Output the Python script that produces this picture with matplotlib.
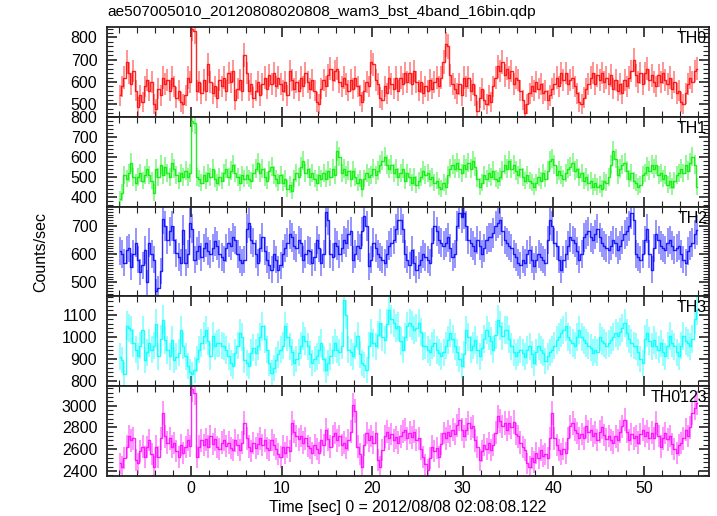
import numpy as np
import matplotlib
matplotlib.use("Agg")
import matplotlib.pyplot as plt
from matplotlib.ticker import MultipleLocator

plt.rcParams['font.family'] = ['Liberation Sans', 'DejaVu Sans']

title = "ae507005010_20120808020808_wam3_bst_4band_16bin.qdp"
xlabel = "Time [sec] 0 = 2012/08/08 02:08:08.122"
ylabel = "Counts/sec"
t_start = -8.0
bin_size = 0.25

th0 = [540, 580, 620, 690, 640, 590, 650, 560, 490, 540, 510, 580, 610, 560, 600, 500,
       480, 570, 540, 620, 590, 610, 560, 620, 580, 530, 560, 510, 500, 540, 620, 600,
       840, 830, 560, 600, 550, 610, 560, 680, 600, 550, 580, 530, 610, 580, 620, 560,
       640, 600, 650, 520, 570, 610, 560, 720, 640, 560, 590, 530, 560, 600, 540, 590,
       620, 570, 630, 590, 640, 580, 620, 590, 560, 600, 540, 650, 610, 570, 600, 560,
       620, 580, 640, 600, 570, 610, 560, 510, 500, 570, 610, 580, 630, 660, 610, 650,
       660, 600, 580, 620, 590, 560, 610, 570, 620, 580, 540, 510, 560, 600, 580, 690,
       680, 610, 590, 530, 520, 580, 550, 620, 590, 570, 620, 560, 620, 590, 640, 600,
       640, 590, 650, 600, 560, 600, 550, 580, 560, 610, 570, 600, 620, 580, 620, 690,
       770, 760, 630, 590, 570, 550, 590, 540, 620, 580, 620, 560, 590, 540, 470, 530,
       570, 520, 500, 540, 510, 580, 620, 670, 650, 690, 630, 660, 620, 650, 590, 620,
       610, 560, 520, 460, 500, 550, 580, 560, 600, 570, 590, 550, 560, 520, 540, 570,
       590, 620, 580, 640, 610, 640, 590, 610, 620, 580, 550, 510, 500, 530, 570, 590,
       620, 640, 590, 630, 610, 640, 600, 620, 590, 630, 570, 610, 560, 590, 550, 610,
       580, 620, 650, 700, 630, 600, 640, 590, 640, 660, 610, 630, 600, 580, 630, 600,
       640, 610, 590, 620, 570, 600, 550, 560, 510, 500, 550, 590, 620, 600, 650, 660]

th1 = [390, 420, 510, 490, 520, 570, 500, 470, 500, 520, 480, 510, 540, 510, 480, 420,
       540, 500, 560, 510, 550, 520, 500, 570, 540, 510, 480, 520, 500, 530, 500, 520,
       780, 770, 500, 490, 470, 510, 480, 520, 500, 540, 490, 470, 500, 480, 520, 540,
       500, 530, 560, 520, 500, 470, 510, 490, 510, 490, 480, 520, 540, 570, 520, 540,
       500, 480, 530, 550, 510, 490, 470, 510, 470, 490, 440, 460, 430, 490, 520, 500,
       550, 580, 520, 540, 500, 520, 490, 470, 510, 490, 520, 490, 530, 500, 540, 510,
       630, 600, 520, 540, 510, 530, 490, 530, 500, 470, 490, 440, 490, 520, 500, 510,
       540, 510, 530, 560, 580, 600, 560, 540, 560, 520, 540, 500, 520, 540, 480, 520,
       500, 470, 500, 460, 480, 500, 530, 510, 520, 490, 500, 470, 480, 450, 440, 470,
       450, 510, 540, 560, 540, 570, 540, 520, 560, 540, 570, 540, 580, 550, 490, 450,
       470, 510, 490, 520, 500, 530, 490, 480, 500, 530, 560, 540, 580, 540, 560, 530,
       510, 540, 500, 480, 510, 480, 470, 450, 470, 500, 480, 520, 490, 530, 580, 590,
       560, 510, 530, 510, 490, 520, 540, 550, 570, 530, 540, 500, 520, 480, 500, 470,
       480, 450, 470, 450, 460, 440, 480, 470, 500, 560, 630, 590, 510, 540, 560, 570,
       530, 490, 520, 480, 470, 450, 460, 510, 520, 550, 530, 560, 540, 560, 510, 520,
       490, 510, 460, 480, 450, 480, 510, 520, 540, 520, 560, 530, 570, 600, 560, 450]

th2 = [610, 600, 570, 615, 620, 555, 600, 640, 580, 535, 560, 615, 500, 640, 600, 580,
       470, 480, 540, 725, 700, 650, 680, 700, 650, 605, 590, 570, 685, 570, 600, 710,
       690, 580, 610, 630, 590, 620, 640, 610, 600, 620, 645, 630, 600, 590, 580, 620,
       640, 630, 660, 650, 600, 580, 570, 580, 690, 710, 650, 640, 600, 570, 620, 660,
       610, 580, 560, 545, 600, 580, 545, 560, 600, 620, 640, 670, 660, 630, 620, 650,
       640, 580, 600, 615, 610, 570, 590, 650, 620, 570, 600, 750, 720, 600, 590, 640,
       630, 600, 620, 650, 640, 670, 680, 580, 600, 630, 620, 680, 735, 700, 556, 580,
       640, 620, 600, 590, 580, 570, 600, 630, 640, 650, 690, 720, 720, 690, 600, 580,
       560, 615, 570, 545, 560, 580, 600, 590, 580, 570, 640, 700, 680, 650, 640, 630,
       640, 660, 620, 590, 600, 700, 745, 730, 745, 700, 650, 640, 630, 610, 650, 630,
       600, 620, 650, 660, 660, 675, 700, 710, 720, 680, 650, 640, 630, 620, 600, 590,
       570, 560, 580, 570, 600, 615, 580, 556, 580, 600, 590, 580, 570, 650, 720, 700,
       640, 630, 580, 545, 580, 600, 630, 660, 650, 640, 610, 580, 600, 660, 670, 680,
       660, 650, 670, 690, 660, 640, 630, 620, 615, 630, 650, 640, 615, 630, 650, 670,
       680, 700, 745, 720, 600, 590, 580, 600, 650, 690, 600, 545, 620, 670, 650, 630,
       620, 615, 640, 650, 630, 615, 620, 630, 600, 580, 570, 610, 630, 640, 670, 685]

th3 = [910, 896, 830, 1050, 1040, 1032, 972, 942, 911, 960, 1032, 896, 930, 972, 942, 960,
       1060, 911, 990, 1077, 987, 940, 911, 987, 896, 910, 927, 1032, 960, 911, 866, 840,
       830, 851, 900, 942, 972, 1002, 1032, 980, 911, 1002, 957, 970, 972, 960, 957, 940,
       911, 880, 866, 927, 960, 1017, 1000, 896, 880, 866, 927, 950, 927, 957, 1000, 1047,
       990, 942, 880, 836, 860, 896, 920, 942, 960, 1047, 1000, 957, 930, 881, 900, 927,
       960, 1002, 980, 957, 920, 881, 900, 911, 940, 972, 900, 851, 880, 911, 940, 972,
       942, 930, 960, 1165, 1100, 942, 930, 911, 960, 1002, 920, 881, 870, 851, 960, 1017,
       972, 957, 1010, 1062, 1000, 987, 1060, 1120, 1080, 1062, 1040, 1047, 980, 942, 1000, 1047,
       1062, 1050, 1032, 1040, 1062, 1020, 957, 960, 942, 930, 960, 972, 940, 927, 911, 930,
       960, 987, 1017, 990, 957, 930, 900, 866, 920, 1032, 1000, 942, 960, 987, 940, 911,
       950, 990, 1032, 1002, 980, 942, 1010, 1077, 1050, 1002, 1030, 1032, 990, 957, 930, 911,
       930, 942, 927, 910, 940, 957, 920, 881, 930, 957, 940, 927, 890, 911, 930, 942,
       960, 987, 1000, 1017, 1030, 1047, 1000, 987, 972, 960, 1000, 1032, 1000, 987, 972, 960,
       950, 927, 942, 930, 1000, 980, 972, 960, 970, 987, 1000, 1017, 1002, 1020, 1040, 1062,
       1017, 990, 972, 960, 957, 930, 900, 881, 990, 1017, 980, 957, 987, 960, 942, 970,
       930, 911, 960, 1002, 970, 957, 930, 911, 960, 1002, 980, 972, 957, 990, 1080, 1120]

th0123 = [2470, 2440, 2520, 2624, 2717, 2680, 2700, 2501, 2470, 2580, 2624, 2532, 2620, 2686, 2560, 2440,
          2624, 2532, 2700, 2932, 2717, 2660, 2700, 2624, 2655, 2580, 2532, 2640, 2563, 2620, 2686, 2630,
          3148, 3117, 2532, 2624, 2680, 2640, 2690, 2624, 2717, 2650, 2690, 2620, 2600, 2660, 2686, 2630,
          2660, 2610, 2594, 2680, 2640, 2594, 2660, 2840, 2700, 2624, 2580, 2655, 2610, 2650, 2700, 2640,
          2680, 2610, 2594, 2686, 2640, 2600, 2560, 2532, 2624, 2563, 2620, 2580, 2840, 2760, 2720, 2690,
          2720, 2660, 2700, 2630, 2610, 2563, 2640, 2600, 2563, 2680, 2640, 2778, 2690, 2624, 2720, 2748,
          2680, 2720, 2640, 2660, 2610, 2686, 2760, 3009, 2950, 2624, 2560, 2440, 2640, 2748, 2680, 2720,
          2660, 2748, 2500, 2440, 2594, 2717, 2760, 2700, 2740, 2680, 2710, 2660, 2717, 2760, 2778, 2700,
          2750, 2710, 2760, 2686, 2700, 2600, 2532, 2460, 2409, 2520, 2624, 2580, 2610, 2532, 2650, 2748,
          2700, 2760, 2720, 2778, 2740, 2820, 2871, 2780, 2717, 2780, 2840, 2790, 2809, 2680, 2620, 2501,
          2580, 2640, 2600, 2655, 2594, 2640, 2750, 2901, 2860, 2809, 2840, 2780, 2840, 2800, 2850, 2740,
          2717, 2660, 2620, 2594, 2470, 2440, 2520, 2480, 2563, 2520, 2594, 2540, 2560, 2520, 2700, 2932,
          2700, 2640, 2594, 2560, 2600, 2563, 2700, 2809, 2840, 2780, 2748, 2700, 2740, 2700, 2809, 2760,
          2778, 2720, 2750, 2686, 2760, 2800, 2730, 2690, 2720, 2686, 2660, 2717, 2680, 2760, 2809, 2871,
          2760, 2686, 2740, 2700, 2720, 2660, 2740, 2778, 2720, 2760, 2700, 2750, 2700, 2840, 2720, 2624,
          2700, 2748, 2690, 2720, 2650, 2600, 2563, 2640, 2655, 2700, 2778, 2720, 2800, 2932, 2980, 3020]

labels = ["TH0", "TH1", "TH2", "TH3", "TH0123"]
series = [th0, th1, th2, th3, th0123]
colors = ["#ff0000", "#00ee00", "#0000ff", "#00ffff", "#ff00ff"]
ylims = [(444, 847), (350, 800), (450, 768), (776, 1183), (2354, 3178)]
ymajor = [100, 100, 100, 100, 200]
yminor = [20, 20, 10, 20, 40]

fig = plt.figure(figsize=(7.17, 5.16), dpi=100)
left, right, top, bottom = 107 / 717, 709 / 717, 1 - 27 / 516, 1 - 476 / 516
n = len(series)
h = (top - bottom) / n
axes = []
for i in range(n):
    ax = fig.add_axes([left, top - (i + 1) * h, right - left, h])
    axes.append(ax)
    vals = np.array(series[i], dtype=float)
    t = t_start + bin_size * (np.arange(len(vals)) + 0.5)
    err = np.sqrt(vals / bin_size)
    c = colors[i]
    ax.errorbar(t, vals, yerr=err, fmt='none', ecolor=c, elinewidth=1.3, alpha=0.45, capsize=0)
    ax.step(t, vals, where='mid', color=c, lw=1.0, alpha=0.85)
    ax.set_xlim(-9.3, 57.2)
    ax.set_ylim(*ylims[i])
    ax.xaxis.set_major_locator(MultipleLocator(10))
    ax.xaxis.set_minor_locator(MultipleLocator(2))
    ax.yaxis.set_major_locator(MultipleLocator(ymajor[i]))
    ax.yaxis.set_minor_locator(MultipleLocator(yminor[i]))
    ax.tick_params(which='both', direction='in', top=True, right=True, labelsize=11.5, color='#222222')
    ax.tick_params(which='major', length=7, width=1.2)
    ax.tick_params(which='minor', length=4, width=0.8)
    ax.tick_params(axis='y', which='major', pad=7)
    for s in ax.spines.values():
        s.set_linewidth(1.3)
        s.set_color('#222222')
    ax.text(0.997, 0.955, labels[i], transform=ax.transAxes, ha='right', va='top', fontsize=11.5)
    if i < n - 1:
        ax.tick_params(labelbottom=False)

axes[-1].set_xlabel(xlabel, fontsize=11.3, labelpad=3)
fig.text(0.057, (top + bottom) / 2, ylabel, rotation=90, ha='center', va='center', fontsize=11.5)
fig.text(left, 1 - 12 / 516, title, ha='left', va='center', fontsize=11.1)

fig.savefig("out.png", dpi=100)
